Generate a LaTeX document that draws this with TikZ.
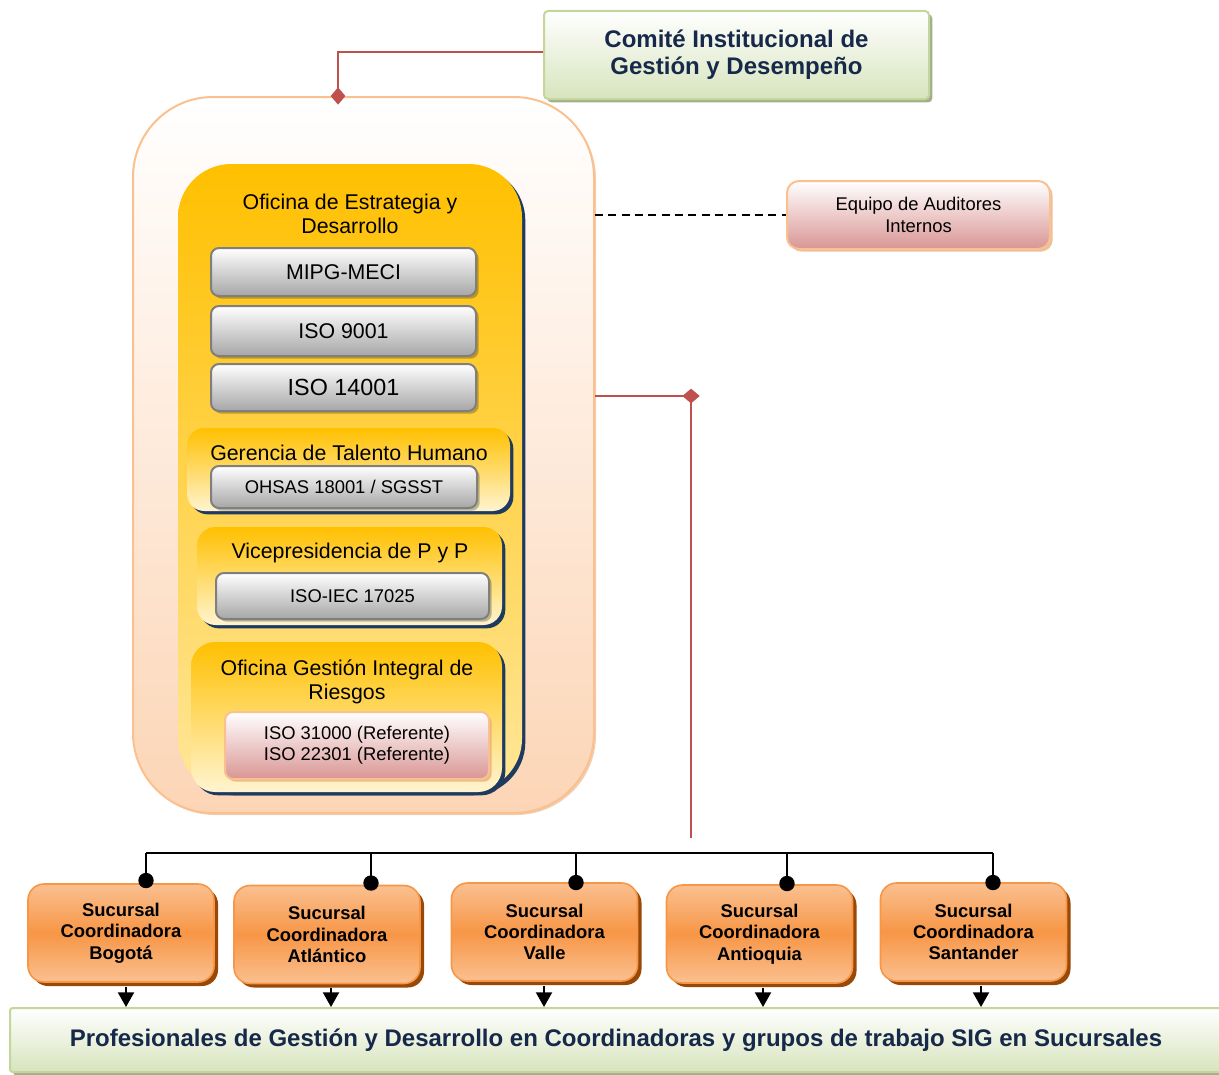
\documentclass[tikz,border=0pt]{standalone}
\usepackage{fontspec}
\setmainfont{Liberation Sans}
\usetikzlibrary{shadows,arrows.meta,calc}
\definecolor{navytxt}{HTML}{17294A}
\definecolor{greenb}{HTML}{C3D69B}
\definecolor{greenf}{HTML}{D7E4BD}
\definecolor{greensh}{HTML}{A3AE8C}
\definecolor{redl}{HTML}{C0504D}
\definecolor{contb}{HTML}{FAC090}
\definecolor{contf}{HTML}{FCD5B5}
\definecolor{yelt}{HTML}{FFC000}
\definecolor{yelb}{HTML}{FFE699}
\definecolor{yelpale}{HTML}{FFF4D0}
\definecolor{navysh}{HTML}{1F3A5F}
\definecolor{grayb}{HTML}{7F7F7F}
\definecolor{grayf}{HTML}{A6A6A6}
\definecolor{pinkf}{HTML}{D99694}
\definecolor{sucl}{HTML}{FAC090}
\definecolor{sucm}{HTML}{F79646}
\definecolor{sucsh}{HTML}{984807}
\begin{document}
\begin{tikzpicture}[x=0.75pt,y=-0.75pt,
  every node/.style={inner sep=0pt, align=center},
  greenbox/.style={draw=greenb, line width=1.5pt, top color=white, bottom color=greenf,
    rounded corners=3pt, drop shadow={shadow xshift=2.5pt, shadow yshift=-2.5pt, fill=greensh, opacity=1},
    font=\fontsize{18}{20}\selectfont\bfseries, text=navytxt},
  contbox/.style={draw=contb, line width=1.5pt, top color=white, bottom color=contf,
    rounded corners=60pt, drop shadow={shadow xshift=1.5pt, shadow yshift=-1.5pt, fill=contb!70!brown, opacity=.6},
    minimum width=345.75pt, minimum height=537pt},
  ybox/.style={top color=yelt, bottom color=yelb,
    drop shadow={shadow xshift=2.5pt, shadow yshift=-2.5pt, fill=navysh, opacity=1}},
  ysub/.style={ybox, bottom color=yelpale},
  ytitle/.style={font=\fontsize{16}{18.5}\selectfont},
  graybox/.style={draw=grayb, line width=1.5pt, top color=white, bottom color=grayf,
    rounded corners=6pt, drop shadow={shadow xshift=2pt, shadow yshift=-2pt, fill=black, opacity=.25},
    minimum width=198.75pt},
  pinkbox/.style={draw=contb, line width=1.5pt, top color=white, bottom color=pinkf,
    rounded corners=6pt, drop shadow={shadow xshift=2pt, shadow yshift=-2pt, fill=contb!60!brown, opacity=.7}},
  sucbox/.style={draw=sucm, line width=1.2pt, top color=sucl, bottom color=sucl, middle color=sucm,
    rounded corners=12pt, drop shadow={shadow xshift=3pt, shadow yshift=-3pt, fill=sucsh, opacity=1},
    minimum width=139.5pt, minimum height=73.5pt, font=\fontsize{13.8}{16}\selectfont\bfseries},
  redline/.style={draw=redl, line width=1.5pt},
  busline/.style={draw=black, line width=1.5pt},
  dot/.style={busline, -{Circle[length=11.5pt]}},
  downarr/.style={busline, -{Triangle[length=11pt,width=12pt]}}
]
\useasboundingbox (0,0) rectangle (1219,1074);

% top committee
\node[greenbox, minimum width=288.75pt, minimum height=66pt] (comite) at (736.5,55)
  {Comité Institucional de\\Gestión y Desempeño};

% big container
\node[contbox] (container) at (363.5,455) {};

% Oficina de Estrategia y Desarrollo
\node[ybox, rounded corners=40pt, minimum width=258pt, minimum height=471pt] (oed) at (350,478) {};
\node[ytitle] (oedt) at (350,214) {Oficina de Estrategia y\\Desarrollo};
\node[graybox, minimum height=36pt, font=\fontsize{16}{18}\selectfont] (mipg) at (343.5,272) {MIPG-MECI};
\node[graybox, minimum height=37.5pt, font=\fontsize{16}{18}\selectfont] (iso9) at (343.5,331) {ISO 9001};
\node[graybox, minimum height=35.25pt, font=\fontsize{17.5}{19}\selectfont] (iso14) at (343.5,387.5) {ISO 14001};

% Gerencia de Talento Humano
\node[ysub, rounded corners=13pt, minimum width=242.25pt, minimum height=62.25pt] (gth) at (348.5,469.5) {};
\node[ytitle] (gtht) at (349,453) {Gerencia de Talento Humano};
\node[graybox, minimum width=199.5pt, minimum height=31.5pt, font=\fontsize{13.8}{16}\selectfont] (ohsas) at (344,487) {OHSAS 18001 / SGSST};

% Vicepresidencia
\node[ysub, rounded corners=14pt, minimum width=228.75pt, minimum height=73.5pt] (vpp) at (349.5,576) {};
\node[ytitle] (vppt) at (350,553) {Vicepresidencia de P y P};
\node[graybox, minimum width=204.75pt, minimum height=34.5pt, font=\fontsize{13.8}{16}\selectfont] (isoiec) at (352.5,596) {ISO-IEC 17025};

% Oficina Gestion Integral de Riesgos
\node[ysub, rounded corners=18pt, minimum width=233.25pt, minimum height=112.5pt] (ogir) at (346.5,717) {};
\node[ytitle] (ogirt) at (347,682) {Oficina Gestión Integral de\\Riesgos};
\node[pinkbox, minimum width=198pt, minimum height=50.25pt, font=\fontsize{13.8}{15.75}\selectfont] (iso31) at (357,745.5)
  {ISO 31000 (Referente)\\ISO 22301 (Referente)};

% auditors
\node[pinkbox, rounded corners=9pt, minimum width=197.25pt, minimum height=51pt, font=\fontsize{13.8}{16.5}\selectfont] (aud) at (918.5,215)
  {Equipo de Auditores\\Internos};

% sucursales
\node[sucbox] (bog) at (121,933) {Sucursal\\Coordinadora\\Bogotá};
\node[sucbox] (atl) at (327,934.5) {Sucursal\\Coordinadora\\Atlántico};
\node[sucbox] (val) at (544.5,932) {Sucursal\\Coordinadora\\Valle};
\node[sucbox] (ant) at (759.5,934) {Sucursal\\Coordinadora\\Antioquia};
\node[sucbox] (san) at (973.5,932) {Sucursal\\Coordinadora\\Santander};

% bottom band
\node[greenbox, rounded corners=2pt, minimum width=909pt, minimum height=48pt, font=\fontsize{18}{20}\selectfont\bfseries] (prof) at (616,1040)
  {Profesionales de Gestión y Desarrollo en Coordinadoras y grupos de trabajo SIG en Sucursales\vphantom{p}};

% connectors
\draw[redline, -{Diamond[length=13pt,width=11pt]}] ([yshift=2.5pt]comite.west) -| ([xshift=-19.1pt,yshift=-6.5pt]container.north);

\coordinate (corner) at (691,396);
\coordinate (redend) at (691,838);
\draw[redline, -{Diamond[length=13pt,width=11pt]}] (corner -| container.east) -- ($(corner)+(8.7,0)$);
\draw[redline] (corner) -- (redend);

\draw[busline, dashed, dash pattern=on 6pt off 4pt, line width=1.2pt] (aud.west -| container.east) -- (aud.west);

\coordinate (b1) at (146,853);
\coordinate (b2) at (371,853);
\coordinate (b3) at (576,853);
\coordinate (b4) at (787,853);
\coordinate (b5) at (993,853);
\draw[busline] (b1) -- (b5);
\draw[dot] (b1) -- ($(b1 |- bog.north)+(0,5)$);
\draw[dot] (b2) -- ($(b2 |- atl.north)+(0,6)$);
\draw[dot] (b3) -- ($(b3 |- val.north)+(0,8)$);
\draw[dot] (b4) -- ($(b4 |- ant.north)+(0,7)$);
\draw[dot] (b5) -- ($(b5 |- san.north)+(0,8)$);

\coordinate (a1) at (126,0);
\coordinate (a2) at (331,0);
\coordinate (a3) at (544,0);
\coordinate (a4) at (763,0);
\coordinate (a5) at (981,0);
\draw[downarr] ($(bog.south -| a1)+(0,4)$) -- (prof.north -| a1);
\draw[downarr] ($(atl.south -| a2)+(0,4)$) -- (prof.north -| a2);
\draw[downarr] ($(val.south -| a3)+(0,4)$) -- (prof.north -| a3);
\draw[downarr] ($(ant.south -| a4)+(0,4)$) -- (prof.north -| a4);
\draw[downarr] ($(san.south -| a5)+(0,4)$) -- (prof.north -| a5);
\end{tikzpicture}
\end{document}
